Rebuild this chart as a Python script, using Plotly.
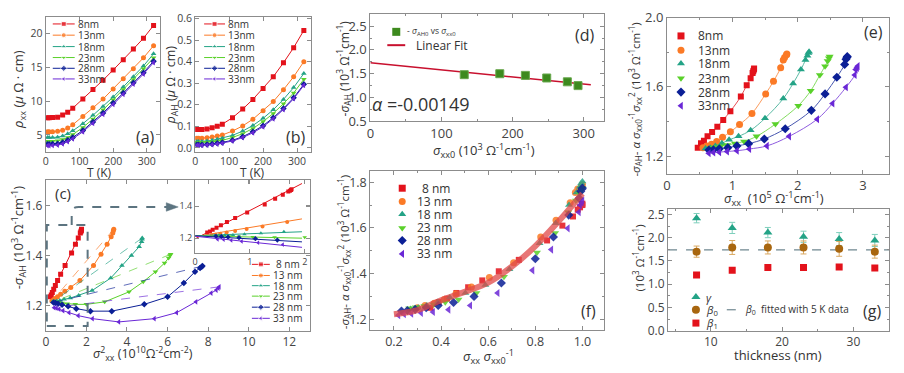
import plotly.graph_objects as go

W, H = 904, 373
FONT = "Open Sans"


def px(x):
    return x / W


def py(y):
    return 1 - y / H


# ---------------- data ----------------
T = [5, 10, 20, 35, 50, 65, 80, 110, 140, 170, 200, 230, 260, 290, 320]
names = ['8nm', '13nm', '18nm', '23nm', '28nm', '33nm']
names_sp = ['8 nm', '13 nm', '18 nm', '23 nm', '28 nm', '33 nm']
colors = ['#e3121b', '#fb7a26', '#23a386', '#5ad12a', '#0b1f96', '#6a27d6']
symbols = ['square', 'circle', 'triangle-up', 'triangle-down', 'diamond', 'triangle-left']

# (a) rho_xx (uOhm cm)
rxx_8 = [7.55, 7.55, 7.57, 7.62, 7.95, 8.35, 8.95, 10.3, 11.7, 13.1, 14.6, 16.1, 17.7, 19.3, 21.2]
rxx_13 = [5.45, 5.45, 5.47, 5.52, 5.7, 6.0, 6.5, 7.7, 9.0, 10.3, 11.8, 13.3, 14.8, 16.4, 18.2]
rxx_18 = [4.6, 4.6, 4.6, 4.65, 4.85, 5.15, 5.6, 6.65, 7.9, 9.2, 10.6, 12.1, 13.6, 15.2, 17.0]
rxx_23 = [4.05, 4.05, 4.06, 4.12, 4.3, 4.6, 5.05, 6.1, 7.35, 8.7, 10.2, 11.7, 13.2, 14.8, 16.4]
rxx_28 = [3.62, 3.62, 3.63, 3.7, 3.88, 4.2, 4.62, 5.65, 6.9, 8.25, 9.7, 11.2, 12.7, 14.2, 15.9]
rxx_33 = [3.42, 3.42, 3.43, 3.5, 3.68, 4.0, 4.42, 5.45, 6.7, 8.05, 9.5, 11.0, 12.5, 14.0, 15.7]

# (b) rho_AH (uOhm cm)
rah_8 = [0.085, 0.085, 0.085, 0.088, 0.093, 0.10, 0.11, 0.14, 0.18, 0.225, 0.275, 0.33, 0.395, 0.465, 0.545]
rah_13 = [0.045, 0.045, 0.045, 0.047, 0.05, 0.055, 0.06, 0.078, 0.102, 0.133, 0.172, 0.215, 0.27, 0.33, 0.40]
rah_18 = [0.03, 0.03, 0.03, 0.032, 0.035, 0.04, 0.045, 0.058, 0.078, 0.104, 0.137, 0.177, 0.225, 0.28, 0.345]
rah_23 = [0.025, 0.025, 0.025, 0.026, 0.028, 0.031, 0.035, 0.048, 0.066, 0.09, 0.122, 0.16, 0.205, 0.255, 0.318]
rah_28 = [0.015, 0.015, 0.015, 0.016, 0.018, 0.021, 0.025, 0.035, 0.052, 0.075, 0.103, 0.14, 0.183, 0.232, 0.295]
rah_33 = [0.012, 0.012, 0.012, 0.013, 0.015, 0.018, 0.022, 0.032, 0.048, 0.07, 0.098, 0.135, 0.178, 0.228, 0.29]

# (c) sigma_xx^2 (1e10) and -sigma_AH (1e3)
csq_8 = [1.76, 1.75, 1.73, 1.70, 1.60, 1.46, 1.27, 0.95, 0.73, 0.58, 0.47, 0.39, 0.32, 0.27, 0.22]
cah_8 = [1.505, 1.50, 1.495, 1.49, 1.47, 1.445, 1.41, 1.36, 1.325, 1.30, 1.28, 1.265, 1.252, 1.242, 1.235]
csq_13 = [3.35, 3.33, 3.30, 3.22, 3.02, 2.72, 2.35, 1.68, 1.23, 0.94, 0.73, 0.575, 0.46, 0.375, 0.30]
cah_13 = [1.505, 1.50, 1.49, 1.475, 1.445, 1.405, 1.36, 1.30, 1.272, 1.257, 1.245, 1.235, 1.228, 1.222, 1.218]
csq_18 = [4.75, 4.74, 4.72, 4.6, 4.22, 3.75, 3.2, 2.28, 1.62, 1.2, 0.9, 0.69, 0.54, 0.43, 0.35]
cah_18 = [1.47, 1.465, 1.455, 1.435, 1.40, 1.36, 1.31, 1.26, 1.24, 1.23, 1.225, 1.22, 1.218, 1.216, 1.215]
csq_23 = [6.15, 6.12, 6.05, 5.85, 5.4, 4.8, 4.1, 2.9, 2.0, 1.45, 1.05, 0.8, 0.62, 0.49, 0.4]
cah_23 = [1.405, 1.40, 1.39, 1.37, 1.335, 1.295, 1.255, 1.215, 1.205, 1.205, 1.207, 1.21, 1.212, 1.214, 1.215]
csq_28 = [7.72, 7.68, 7.6, 7.35, 6.8, 6.0, 4.85, 3.25, 2.2, 1.5, 1.1, 0.8, 0.6, 0.48, 0.38]
cah_28 = [1.358, 1.355, 1.35, 1.335, 1.29, 1.235, 1.205, 1.178, 1.178, 1.188, 1.197, 1.203, 1.207, 1.21, 1.212]
csq_33 = [8.55, 8.5, 8.4, 8.15, 7.4, 6.45, 5.35, 3.6, 2.3, 1.6, 1.15, 0.85, 0.66, 0.52, 0.41]
cah_33 = [1.275, 1.27, 1.262, 1.25, 1.215, 1.172, 1.148, 1.135, 1.148, 1.16, 1.172, 1.18, 1.186, 1.19, 1.192]

# (c) inset linear fits, value at the two ends
inset_fit_x = [0.0, 1.95]
inset_fit_y0 = [1.196, 1.21, 1.215, 1.215, 1.215, 1.212]
inset_fit_y1 = [1.540, 1.32, 1.24, 1.20, 1.177, 1.143]

# (d) -sigma_AH0 vs sigma_xx0
sxx0 = [132, 182, 218, 248, 277, 292]
sah0 = [1.48, 1.50, 1.465, 1.41, 1.33, 1.25]
dfit_x = [0, 310]
dfit_y = [1.73, 1.268]

# (e) sigma_xx (1e5) and -sigma_AH - a*sigma_xx^2/sigma_xx0
ex_8 = [1.333, 1.33, 1.32, 1.31, 1.28, 1.22, 1.13, 0.97, 0.86, 0.77, 0.69, 0.62, 0.565, 0.52, 0.47]
ey_8 = [1.706, 1.70, 1.69, 1.68, 1.65, 1.61, 1.545, 1.46, 1.41, 1.37, 1.34, 1.315, 1.29, 1.275, 1.25]
ex_13 = [1.835, 1.83, 1.80, 1.78, 1.74, 1.63, 1.51, 1.30, 1.11, 0.97, 0.85, 0.76, 0.68, 0.61, 0.55]
ey_13 = [1.79, 1.785, 1.77, 1.755, 1.71, 1.633, 1.56, 1.447, 1.383, 1.341, 1.31, 1.286, 1.27, 1.26, 1.25]
ex_18 = [2.175, 2.165, 2.15, 2.12, 2.05, 1.93, 1.78, 1.50, 1.28, 1.095, 0.95, 0.84, 0.74, 0.66, 0.59]
ey_18 = [1.803, 1.795, 1.78, 1.755, 1.70, 1.62, 1.533, 1.419, 1.35, 1.315, 1.295, 1.275, 1.26, 1.25, 1.245]
ex_23 = [2.49, 2.48, 2.46, 2.42, 2.34, 2.20, 2.01, 1.66, 1.37, 1.18, 1.04, 0.92, 0.82, 0.73, 0.66]
ey_23 = [1.775, 1.765, 1.75, 1.72, 1.669, 1.578, 1.492, 1.386, 1.315, 1.286, 1.274, 1.265, 1.258, 1.252, 1.248]
ex_28 = [2.76, 2.755, 2.74, 2.72, 2.60, 2.42, 2.21, 1.81, 1.49, 1.25, 1.07, 0.93, 0.80, 0.71, 0.64]
ey_28 = [1.775, 1.77, 1.76, 1.73, 1.656, 1.56, 1.465, 1.359, 1.30, 1.273, 1.26, 1.25, 1.243, 1.238, 1.236]
ex_33 = [2.92, 2.91, 2.89, 2.875, 2.74, 2.535, 2.30, 1.87, 1.53, 1.26, 1.07, 0.92, 0.80, 0.71, 0.64]
ey_33 = [1.72, 1.71, 1.70, 1.669, 1.598, 1.505, 1.414, 1.315, 1.26, 1.242, 1.232, 1.228, 1.224, 1.222, 1.218]

# (f) sigma_xx / sigma_xx0 (y values are the same quantity as in (e))
fx_8 = [1.0, 1.0, 0.99, 0.98, 0.96, 0.915, 0.85, 0.73, 0.645, 0.575, 0.515, 0.465, 0.425, 0.39, 0.355]
fx_13 = [1.0, 0.997, 0.98, 0.97, 0.948, 0.888, 0.823, 0.708, 0.605, 0.529, 0.463, 0.414, 0.371, 0.332, 0.30]
fx_18 = [1.0, 0.995, 0.989, 0.975, 0.943, 0.887, 0.818, 0.69, 0.588, 0.503, 0.437, 0.386, 0.34, 0.303, 0.271]
fx_23 = [1.0, 0.996, 0.988, 0.972, 0.94, 0.884, 0.807, 0.667, 0.55, 0.474, 0.418, 0.369, 0.329, 0.293, 0.265]
fx_28 = [1.0, 0.998, 0.993, 0.986, 0.942, 0.877, 0.80, 0.656, 0.54, 0.453, 0.388, 0.337, 0.29, 0.257, 0.232]
fx_33 = [1.0, 0.997, 0.99, 0.985, 0.938, 0.868, 0.788, 0.64, 0.524, 0.432, 0.366, 0.315, 0.274, 0.243, 0.219]
ffit_x = [0.2, 0.3, 0.4, 0.5, 0.6, 0.7, 0.8, 0.9, 1.0]
ffit_y = [1.222, 1.24, 1.283, 1.32, 1.36, 1.43, 1.52, 1.63, 1.75]

# (g) parameters vs thickness
thick = [8, 13, 18, 23, 28, 33]
gamma = [2.42, 2.21, 2.11, 2.02, 1.97, 1.94]
gamma_err = [0.1, 0.12, 0.11, 0.12, 0.14, 0.13]
beta0 = [1.70, 1.79, 1.79, 1.79, 1.76, 1.70]
beta0_err = [0.12, 0.15, 0.14, 0.14, 0.16, 0.14]
beta1 = [1.20, 1.30, 1.36, 1.36, 1.37, 1.35]
beta0_5K = 1.74
g_xlim = [4, 35]

rxx = [rxx_8, rxx_13, rxx_18, rxx_23, rxx_28, rxx_33]
rah = [rah_8, rah_13, rah_18, rah_23, rah_28, rah_33]
csq = [csq_8, csq_13, csq_18, csq_23, csq_28, csq_33]
cah = [cah_8, cah_13, cah_18, cah_23, cah_28, cah_33]
ex = [ex_8, ex_13, ex_18, ex_23, ex_28, ex_33]
ey = [ey_8, ey_13, ey_18, ey_23, ey_28, ey_33]
fxs = [fx_8, fx_13, fx_18, fx_23, fx_28, fx_33]

fig = go.Figure()
annotations = []
shapes = []


def axis(dom, rng, anchor, fs, dtick=None, fmt=None, minor=None, tickvals=None):
    d = dict(domain=dom, range=rng, anchor=anchor, showline=True, mirror='ticks',
             linecolor='#8c8c8c', linewidth=1.2, ticks='inside', ticklen=4,
             tickcolor='#8c8c8c', showgrid=False, zeroline=False,
             tickfont=dict(size=fs, color='#444', family=FONT))
    if dtick is not None:
        d['dtick'] = dtick
    if tickvals is not None:
        d['tickvals'] = tickvals
    if fmt:
        d['tickformat'] = fmt
    if minor:
        d['minor'] = dict(dtick=minor, ticks='inside', ticklen=2, tickcolor='#8c8c8c')
    return d


def xd(a, b):
    return [px(a), px(b)]


def yd(top, bottom):
    return [py(bottom), py(top)]


def sc(x, y, ax, **kw):
    fig.add_trace(go.Scatter(x=x, y=y, xaxis='x' + ax, yaxis='y' + ax,
                             showlegend=False, hoverinfo='skip', **kw))


# (a)
for i in range(6):
    sc(T, rxx[i], '', mode='lines+markers', line=dict(color=colors[i], width=1),
       marker=dict(symbol=symbols[i], size=5, color=colors[i]))
# (b)
for i in range(6):
    sc(T, rah[i], '2', mode='lines+markers', line=dict(color=colors[i], width=1),
       marker=dict(symbol=symbols[i], size=5, color=colors[i]))
# (c)
for i in range(6):
    if i > 0:
        sc([csq[i][0], csq[i][-1]], [cah[i][0], cah[i][-1]], '3', mode='lines',
           line=dict(color=colors[i], width=1, dash='dash'), opacity=0.65)
    sc(csq[i], cah[i], '3', mode='lines+markers', line=dict(color=colors[i], width=1),
       marker=dict(symbol=symbols[i], size=5, color=colors[i]))
# (c) inset
for i in range(6):
    sc(inset_fit_x, [inset_fit_y0[i], inset_fit_y1[i]], '4', mode='lines',
       line=dict(color=colors[i], width=1))
    xs = [v for v in csq[i] if v <= 2.05]
    ys = [cah[i][k] for k, v in enumerate(csq[i]) if v <= 2.05]
    sc(xs, ys, '4', mode='markers', marker=dict(symbol=symbols[i], size=4, color=colors[i]))
# (d)
sc(dfit_x, dfit_y, '5', mode='lines', line=dict(color='#c8102e', width=1.5))
sc(sxx0, sah0, '5', mode='markers',
   marker=dict(symbol='square', size=8, color='#3d8a1e', line=dict(color='#6aa84f', width=1)))
# (e)
for i in range(6):
    sc(ex[i], ey[i], '6', mode='lines', line=dict(color=colors[i], width=1, shape='spline'),
       opacity=0.75)
    sc(ex[i], ey[i], '6', mode='markers',
       marker=dict(symbol=symbols[i], size=6 if i == 0 else 7, color=colors[i]))
# (f)
for i in range(6):
    sc(fxs[i], ey[i], '7', mode='markers',
       marker=dict(symbol=symbols[i], size=6 if i == 0 else 7, color=colors[i]), opacity=0.85)
sc(ffit_x, ffit_y, '7', mode='lines', line=dict(color='#e04848', width=6, shape='spline'),
   opacity=0.75)
# (g)
sc(g_xlim, [beta0_5K, beta0_5K], '8', mode='lines', line=dict(color='#6f8790', width=1.2, dash='dash'))
sc(thick, gamma, '8', mode='markers', marker=dict(symbol='triangle-up', size=8, color='#23a386'),
   error_y=dict(type='data', array=gamma_err, color='#7fcfbc', thickness=1, width=3))
sc(thick, beta0, '8', mode='markers', marker=dict(symbol='circle', size=8, color='#a8660f'),
   error_y=dict(type='data', array=beta0_err, color='#d9a860', thickness=1, width=3))
sc(thick, beta1, '8', mode='markers', marker=dict(symbol='square', size=7, color='#e3121b'))


# ---------------- legends (drawn on a full-page overlay axis) ----------------
def leg(x0, x1, y, color, symbol, size, text, fs, tx, line=True, dash=None, lw=1):
    if line:
        xs = [x0, (x0 + x1) / 2, x1]
        sizes = [0, size, 0]
        if symbol is None:
            sizes = [0, 0, 0]
        sc(xs, [y, y, y], '9', mode='lines+markers',
           line=dict(color=color, width=lw, dash=dash),
           marker=dict(symbol=symbol or 'circle', size=sizes, color=color))
    else:
        sc([x0], [y], '9', mode='markers', marker=dict(symbol=symbol, size=size, color=color))
    annotations.append(dict(x=px(tx), y=py(y), xref='paper', yref='paper', text=text,
                            showarrow=False, xanchor='left', yanchor='middle',
                            font=dict(size=fs, color='#333', family=FONT)))


ya = [15.7, 27.5, 39.5, 51, 62.3, 73.5]
for i in range(6):
    leg(49, 71, ya[i], colors[i], symbols[i], 5, names[i], 10, 72)
    leg(201, 222, ya[i], colors[i], symbols[i], 5, names[i], 10, 223)
yc = [268.3, 280, 290.7, 301.7, 313.3, 325]
for i in range(6):
    leg(249, 267, yc[i], colors[i], symbols[i], 5, names_sp[i], 10, 271 if i == 0 else 268)
ye = [28.3, 43.3, 57.3, 72.7, 87.3, 101.7]
for i in range(6):
    leg(680, 680, ye[i], colors[i], symbols[i], 7, names[i], 12, 695, line=False)
yf = [188.3, 202.3, 215.7, 230, 243.3, 257.3]
for i in range(6):
    leg(400, 400, yf[i], colors[i], symbols[i], 7, names_sp[i], 12, 418 if i == 0 else 413, line=False)
leg(394, 394, 24, '#3d8a1e', 'square', 8,
    '- <i>σ</i><sub>AH0</sub> vs <i>σ</i><sub>xx0</sub>', 8.5, 403, line=False)
leg(385, 403, 38, '#c8102e', None, 0, 'Linear Fit', 12, 412, lw=2)
leg(695, 695, 302.7, '#23a386', 'triangle-up', 8, '<i>γ</i>', 11, 703, line=False)
leg(695, 695, 316, '#a8660f', 'circle', 8, '<i>β</i><sub>0</sub>', 11, 703, line=False)
leg(695, 695, 330, '#e3121b', 'square', 7, '<i>β</i><sub>1</sub>', 11, 703, line=False)
leg(726, 740, 316, '#6f8790', None, 0, '<i>β</i><sub>0</sub>  fitted with 5 K data', 10, 742,
    dash='dash', lw=1.2)


# ---------------- text ----------------
def txt(x, y, text, fs=13, angle=0, color='#333'):
    annotations.append(dict(x=px(x), y=py(y), xref='paper', yref='paper', text=text,
                            showarrow=False, textangle=angle, xanchor='center', yanchor='middle',
                            font=dict(size=fs, color=color, family=FONT)))


unit3 = '(10<sup>3</sup> Ω<sup>-1</sup>cm<sup>-1</sup>)'
ylab_e = ('-<i>σ</i><sub>AH</sub>- <i>α σ</i><sub>xx0</sub><sup>-1</sup><i>σ</i><sub>xx</sub>'
          '<sup>2</sup> ' + unit3)
txt(142, 135, '(a)', 16)
txt(293, 134, '(b)', 16)
txt(59, 193, '(c)', 15)
txt(584, 27, '(d)', 16)
txt(873, 24, '(e)', 16)
txt(587, 317, '(f)', 16)
txt(872, 317, '(g)', 16)
txt(15, 84, '<i>ρ</i><sub>xx</sub> (<i>μ</i> Ω · cm)', 13, -90)
txt(96, 172, 'T (K)', 12)
txt(168, 80, '<i>ρ</i><sub>AH</sub> (<i>μ</i> Ω · cm)', 12.5, -90)
txt(250, 172, 'T (K)', 12)
txt(14, 240, '-<i>σ</i><sub>AH</sub> ' + unit3, 13, -90)
txt(140, 363, '<i>σ</i><sup>2</sup><sub>xx</sub> (10<sup>10</sup>Ω<sup>-2</sup>cm<sup>-2</sup>)', 12.5)
txt(341, 62, '-<i>σ</i><sub>AH</sub> ' + unit3, 12, -90)
txt(482, 149, '<i>σ</i><sub>xx0</sub> ' + unit3, 13)
txt(418, 100, '<i>α</i> =-0.00149', 18)
txt(634, 95, ylab_e, 11.5, -90)
txt(773, 199, '<i>σ</i><sub>xx</sub>  (10<sup>5</sup> Ω<sup>-1</sup>cm<sup>-1</sup>)', 13)
txt(341, 255, ylab_e, 11.5, -90)
txt(487, 365, '<i>σ</i><sub>xx</sub> <i>σ</i><sub>xx0</sub><sup>-1</sup>', 13)
txt(777, 364, 'thickness (nm)', 13)
txt(637, 262, unit3, 11.5, -90)

# (c) zoom box and arrow
gray = '#5c7480'
shapes.append(dict(type='rect', xref='paper', yref='paper', x0=px(43), x1=px(84),
                   y0=py(333), y1=py(227), line=dict(color=gray, width=2, dash='dash')))
shapes.append(dict(type='path', xref='paper', yref='paper',
                   path='M %f,%f L %f,%f Q %f,%f %f,%f L %f,%f' % (
                       px(68), py(227), px(68), py(214), px(68), py(208), px(75), py(208),
                       px(164), py(208)),
                   line=dict(color=gray, width=2, dash='dash')))
shapes.append(dict(type='path', xref='paper', yref='paper',
                   path='M %f,%f L %f,%f L %f,%f Z' % (px(163), py(203.5), px(175), py(208),
                                                      px(163), py(212.5)),
                   fillcolor=gray, line=dict(color=gray, width=0.5)))

fig.update_layout(
    width=W, height=H, margin=dict(l=0, r=0, t=0, b=0),
    paper_bgcolor='white', plot_bgcolor='rgba(0,0,0,0)', showlegend=False,
    font=dict(family=FONT, color='#333'),
    xaxis=axis(xd(42, 157), [0, 340], 'y', 10.5, dtick=100),
    yaxis=axis(yd(8, 150), [2.5, 22.5], 'x', 10.5, dtick=5),
    xaxis2=axis(xd(192, 308), [0, 340], 'y2', 10.5, dtick=100),
    yaxis2=axis(yd(8, 150), [-0.018, 0.609], 'x2', 10.5, dtick=0.1, fmt='.1f'),
    xaxis3=axis(xd(42, 307), [0, 13], 'y3', 12, dtick=2),
    yaxis3=axis(yd(180, 338), [1.1, 1.7], 'x3', 12, tickvals=[1.2, 1.4, 1.6], fmt='.1f'),
    xaxis4=axis(xd(192, 307), [0, 2.09], 'y4', 9, dtick=1),
    yaxis4=axis(yd(180, 256), [1.11, 1.56], 'x4', 9, tickvals=[1.2, 1.4], fmt='.1f'),
    xaxis5=axis(xd(368, 603), [0, 329], 'y5', 13, dtick=100, minor=50),
    yaxis5=axis(yd(5, 118), [0.5, 2.76], 'x5', 13, dtick=0.5, fmt='.1f', minor=0.25),
    xaxis6=axis(xd(666, 889), [0, 3.4], 'y6', 13, dtick=1, minor=0.5),
    yaxis6=axis(yd(9, 173), [1.1, 2.0], 'x6', 13, tickvals=[1.2, 1.6, 2.0], fmt='.1f', minor=0.2),
    xaxis7=axis(xd(368, 603), [0.1, 1.093], 'y7', 12.5, dtick=0.2, fmt='.1f', minor=0.1),
    yaxis7=axis(yd(170, 337), [1.154, 1.85], 'x7', 12.5, dtick=0.2, fmt='.1f', minor=0.1),
    xaxis8=axis(xd(667, 889), g_xlim, 'y8', 12, dtick=10, minor=5),
    yaxis8=axis(yd(210, 338), [0, 2.62], 'x8', 12, dtick=0.5, fmt='.1f', minor=0.25),
    xaxis9=dict(domain=[0, 1], range=[0, W], anchor='y9', visible=False, fixedrange=True),
    yaxis9=dict(domain=[0, 1], range=[H, 0], anchor='x9', visible=False, fixedrange=True),
    annotations=annotations, shapes=shapes,
)

# the page body has a default 8px margin; drop it so the figure sits at the page origin
fig.write_html("out.html", config={'displayModeBar': False},
               post_script="document.body.style.margin='0px';document.body.style.overflow='hidden';")
